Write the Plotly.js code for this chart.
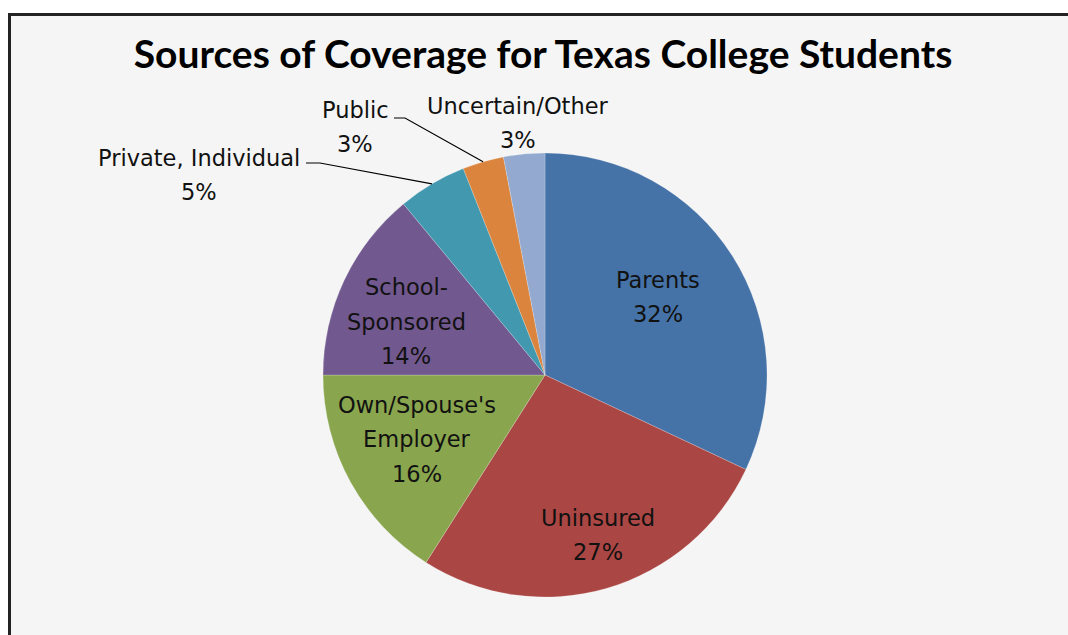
<!DOCTYPE html>
<html>
<head>
<meta charset="utf-8">
<script src="https://cdn.plot.ly/plotly-3.0.1.min.js"></script>
<style>html,body{margin:0;padding:0;background:#fff;}#chart{width:1068px;height:635px;}</style>
</head>
<body>
<div id="chart"></div>
<script>
// ---- data ----
const categories = ['Parents', 'Uninsured', "Own/Spouse's Employer", 'School-Sponsored', 'Private, Individual', 'Public', 'Uncertain/Other'];
const labelLines = [['Parents'], ['Uninsured'], ["Own/Spouse's", 'Employer'], ['School-', 'Sponsored'], ['Private, Individual'], ['Public'], ['Uncertain/Other']];
const values = [32, 27, 16, 14, 5, 3, 3];
const colors = ['#4572A7', '#AA4643', '#89A54E', '#71588F', '#4198AF', '#DB843D', '#93A9CF'];

// ---- layout geometry (pixels) ----
const W = 1068, H = 635;
const CX = 545, CY = 375, R = 222;
// inside labels: radius fraction along slice bisector, plus small nudge in px
const insideFrac = [0.62, 0.76, 0.64, 0.67, null, null, null];
const insideNudge = [[-3, -4], [6, -2], [-3, -4], [-4, 10], null, null, null];
// outside labels: block centers in px
const outsidePos = [null, null, null, null, [199, 175], [355, 127], [518, 123]];
// leader lines: label-end elbows in px
const leaders = [null, null, null, null, [[306, 163], [320, 163]], [[394, 118], [405, 118]], null];
const lineGap = 34.5;

const px2x = p => p / W;
const px2y = p => 1 - p / H;

const total = values.reduce((a, b) => a + b, 0);
let cum = 0;
const annotations = [];
const shapes = [];

// frame background + border (left and top)
shapes.push({type: 'rect', xref: 'paper', yref: 'paper', layer: 'below',
  x0: px2x(9.5), x1: 1.05, y0: -0.05, y1: px2y(14.5),
  fillcolor: '#f5f5f5', line: {color: '#232323', width: 3}});

values.forEach((v, i) => {
  const a0 = cum / total * 2 * Math.PI;
  cum += v;
  const a1 = cum / total * 2 * Math.PI;
  const mid = (a0 + a1) / 2;
  let bx, by;
  if (insideFrac[i] !== null) {
    const r = insideFrac[i] * R;
    bx = CX + r * Math.sin(mid) + insideNudge[i][0];
    by = CY - r * Math.cos(mid) + insideNudge[i][1];
  } else {
    bx = outsidePos[i][0];
    by = outsidePos[i][1];
  }
  const lines = labelLines[i].concat([Math.round(v / total * 100) + '%']);
  const n = lines.length;
  lines.forEach((t, k) => {
    annotations.push({
      x: px2x(bx), y: px2y(by + (k - (n - 1) / 2) * lineGap),
      xref: 'paper', yref: 'paper', xanchor: 'center', yanchor: 'middle',
      text: t, showarrow: false,
      font: {family: 'DejaVu Sans', size: 22.5, color: '#111111'}
    });
  });
  if (leaders[i]) {
    const ex = CX + R * Math.sin(mid), ey = CY - R * Math.cos(mid);
    const pts = leaders[i].concat([[ex, ey]]);
    const path = pts.map((p, k) => (k ? 'L' : 'M') + px2x(p[0]) + ',' + px2y(p[1])).join(' ');
    shapes.push({type: 'path', xref: 'paper', yref: 'paper', path: path,
      line: {color: '#000000', width: 1.2}});
  }
});

const trace = {
  type: 'pie',
  labels: categories,
  values: values,
  sort: false,
  direction: 'clockwise',
  rotation: 0,
  textinfo: 'none',
  hoverinfo: 'skip',
  marker: {colors: colors, line: {color: 'rgba(255,255,255,0.35)', width: 0.6}},
  domain: {x: [(CX - R) / W, (CX + R) / W], y: [1 - (CY + R) / H, 1 - (CY - R) / H]},
  showlegend: false
};

const layout = {
  width: W, height: H,
  margin: {l: 0, r: 0, t: 0, b: 0},
  paper_bgcolor: '#ffffff',
  title: {text: 'Sources of Coverage for Texas College Students',
    x: 543 / W, xanchor: 'center', y: px2y(54), yanchor: 'middle', yref: 'container',
    font: {family: 'Lato', size: 39, color: '#000000', weight: 700}},
  showlegend: false,
  annotations: annotations,
  shapes: shapes
};

Plotly.newPlot('chart', [trace], layout, {displayModeBar: false, staticPlot: true});
</script>
</body>
</html>
